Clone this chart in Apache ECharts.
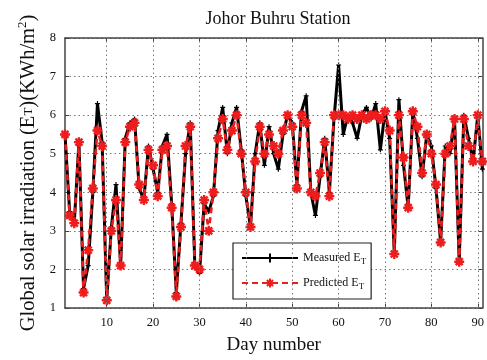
<!DOCTYPE html>
<html>
<head>
<meta charset="utf-8">
<script src="https://cdn.jsdelivr.net/npm/echarts@6/dist/echarts.min.js"></script>
<style>html,body{margin:0;padding:0;background:#fff}#c{width:487px;height:360px}</style>
</head>
<body>
<div id="c"></div>
<script>
var days = [];
for (var i = 1; i <= 91; i++) days.push(i);
var measured = [5.5,3.5,3.2,5.3,1.5,2.1,4.0,6.3,5.3,1.2,
  3.1,4.2,2.1,5.4,5.8,5.9,4.1,3.8,5.2,4.6,
  4.0,5.2,5.5,3.7,1.4,3.2,5.0,5.8,2.1,1.9,
  3.7,3.5,3.9,5.6,6.2,5.0,5.8,6.2,5.1,3.9,
  3.1,5.0,5.8,4.7,5.7,5.0,4.6,5.5,6.0,5.8,
  4.2,6.1,6.5,4.0,3.4,4.4,5.4,4.0,5.9,7.3,
  5.5,6.0,5.8,5.4,6.0,6.2,5.9,6.3,5.1,6.1,
  5.4,2.4,6.4,4.7,3.6,6.1,5.4,4.4,5.5,5.2,
  4.1,2.7,5.2,5.0,5.9,2.2,6.0,5.4,4.8,6.0,4.6];
var predicted = [5.5,3.4,3.2,5.3,1.4,2.5,4.1,5.6,5.2,1.2,
  3.0,3.8,2.1,5.3,5.7,5.8,4.2,3.8,5.1,4.7,
  3.9,5.1,5.2,3.6,1.3,3.1,5.2,5.7,2.1,2.0,
  3.8,3.0,4.0,5.4,5.9,5.1,5.6,6.0,5.0,4.0,
  3.1,4.8,5.7,5.0,5.5,5.2,5.0,5.6,6.0,5.7,
  4.1,6.0,5.8,4.0,3.9,4.5,5.3,3.9,6.0,6.0,
  6.0,5.9,6.0,5.9,6.0,5.9,6.0,6.0,5.9,6.1,
  5.6,2.4,6.0,4.9,3.6,6.1,5.7,4.5,5.5,5.0,
  4.2,2.7,5.0,5.2,5.9,2.2,5.9,5.2,4.8,6.0,4.8];
var xTicks = [10,20,30,40,50,60,70,80,90];
var yTicks = [1,2,3,4,5,6,7,8];

var serif = 'Liberation Serif';
var mPairs = days.map(function(d,i){return [d, measured[i]];});
var pPairs = days.map(function(d,i){return [d, predicted[i]];});
var asterisk = 'path://M0,-5L0,5M-5,0L5,0M-3.5,-3.5L3.5,3.5M-3.5,3.5L3.5,-3.5';
var plus = 'path://M0,-5L0,5M-5,0L5,0';

var chart = echarts.init(document.getElementById('c'), null, {renderer:'canvas'});
chart.setOption({
  backgroundColor:'#fff',
  animation:false,
  title:{text:'Johor Buhru Station', left:273, top:5, textAlign:'center',
    textStyle:{fontFamily:serif, fontSize:18, fontWeight:'normal', color:'#111'}},
  grid:{left:65, right:3, top:38, bottom:52},
  legend:{
    orient:'vertical', left:233, top:243, itemWidth:56, itemHeight:11, itemGap:11,
    padding:[9,5,8,8], borderColor:'#222', borderWidth:1.2, backgroundColor:'#fff',
    data:['Measured','Predicted'],
    formatter:function(n){return n==='Measured' ? '{a|Measured E}{s|T}' : '{a|Predicted E}{s|T}';},
    textStyle:{fontFamily:serif, fontSize:12, color:'#111',
      rich:{a:{fontFamily:serif, fontSize:12, color:'#111'}, s:{fontFamily:serif, fontSize:9, color:'#111', padding:[7,0,0,0]}}}
  },
  xAxis:[{
    type:'value', min:1, max:91,
    name:'Day number', nameLocation:'middle', nameGap:28,
    nameTextStyle:{fontFamily:serif, fontSize:19, color:'#111'},
    axisLine:{onZero:false, lineStyle:{color:'#444', width:1.5}},
    axisTick:{inside:true, length:4, customValues:xTicks, lineStyle:{color:'#444'}},
    axisLabel:{customValues:xTicks, fontFamily:serif, fontSize:12.5, color:'#111', margin:8},
    splitLine:{show:false}
  },{
    type:'value', min:1, max:91, position:'top',
    axisLine:{onZero:false, lineStyle:{color:'#444', width:1.5}},
    axisTick:{inside:true, length:4, customValues:xTicks, lineStyle:{color:'#444'}},
    axisLabel:{show:false}, splitLine:{show:false}
  }],
  yAxis:[{
    type:'value', min:1, max:8, interval:1,
    name:'Global solar irradiation (E{s|T})(KWh/m{p|2})', nameLocation:'middle', nameGap:24, nameRotate:90,
    nameTextStyle:{fontFamily:serif, fontSize:20.5, color:'#111',
      rich:{s:{fontFamily:serif, fontSize:13, color:'#111'}, p:{fontFamily:serif, fontSize:13, color:'#111', padding:[0,0,11,0]}}},
    axisLine:{onZero:false, lineStyle:{color:'#444', width:1.5}},
    axisTick:{inside:true, length:4, lineStyle:{color:'#444'}},
    axisLabel:{fontFamily:serif, fontSize:12.5, color:'#111', margin:9},
    splitLine:{show:true, lineStyle:{color:'#777', type:[1.5,3], width:1}}
  },{
    type:'value', min:1, max:8, interval:1, position:'right',
    axisLine:{onZero:false, lineStyle:{color:'#444', width:1.5}},
    axisTick:{inside:true, length:4, lineStyle:{color:'#444'}},
    axisLabel:{show:false}, splitLine:{show:false}
  }],
  series:[{
    name:'Measured', type:'line', data:mPairs, xAxisIndex:0, yAxisIndex:0,
    symbol:plus, symbolSize:5, showSymbol:true,
    lineStyle:{color:'#000', width:3},
    itemStyle:{color:'#000', borderColor:'#000', borderWidth:1.2},
    markLine:{silent:true, symbol:'none', label:{show:false},
      lineStyle:{color:'#777', type:[1.5,3], width:1},
      data:xTicks.map(function(v){return {xAxis:v};})},
    z:2
  },{
    name:'Predicted', type:'line', data:pPairs, xAxisIndex:0, yAxisIndex:0,
    symbol:asterisk, symbolSize:10, showSymbol:true,
    lineStyle:{color:'#ee1c1c', width:2.6, type:[6,4]},
    itemStyle:{color:'#ee1c1c', borderColor:'#ee1c1c', borderWidth:2.4},
    z:3
  }]
});
</script>
</body>
</html>
